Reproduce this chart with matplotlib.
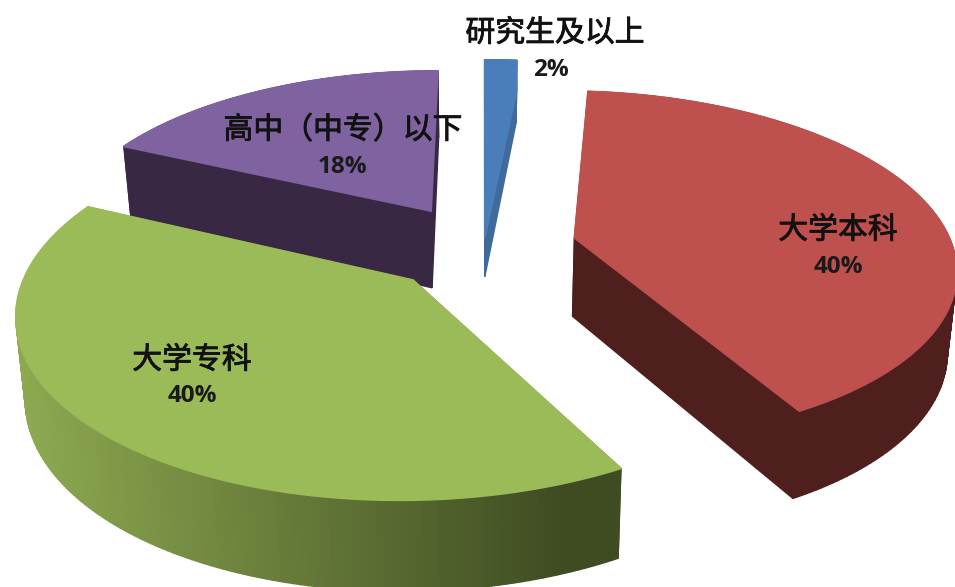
# -*- coding: utf-8 -*-
import numpy as np
import matplotlib
matplotlib.use('Agg')
import matplotlib.pyplot as plt
import matplotlib.patheffects as pe
from matplotlib.colors import to_rgb

plt.rcParams['font.family'] = ['Noto Sans CJK SC', 'DejaVu Sans']

# data
categories = ['研究生及以上', '大学本科', '大学专科', '高中（中专）以下']
shares = [1.3, 40.7, 40.0, 18.0]
share_labels = ['2%', '40%', '40%', '18%']

# slice styles, same order as categories
top_colors = ['#4A7EBB', '#BE504D', '#9BBB59', '#7F62A0']
side_colors = ['#3F6A9C', '#4F1F1D', None, '#392843']
explode = [0.057, 0.255, 0.255, 0.255]
radius = [1.25, 1.0, 1.0, 1.0]
height_scale = [0.5, 1.0, 1.0, 1.0]
corner_drop = [30, 0, 0, 0]
shift_x = [3, 0, 0, 0]
draw_order = [3, 0, 1, 2]

# label centres in pixels: name and share
name_pos = [(555, 33), (838, 230), (192, 360), (343, 130)]
share_pos = [(551, 70), (838, 267), (192, 396), (342, 167)]

# perspective of the pie plane
cx, cy = 481, 247
scale_x, scale_y = 378, 173
persp = 0.16
depth = 79
bottom_shrink = 0.98


def project(u, v):
    w = 1 + persp * v
    return cx + scale_x * u / w, cy - scale_y * v / w


def side_quads(x, y, v):
    thick = depth * (1 - 0.13 * v)
    xb = cx + (x - cx) * bottom_shrink
    yb = y + thick
    return xb, yb


def green_side(x):
    # side of the green slice darkens from left to right
    t = np.clip((x - 20) / 540, 0, 1)
    a, b = np.array(to_rgb('#8DA950')), np.array(to_rgb('#3F4C22'))
    return tuple(a + (b - a) * t)


fig = plt.figure(figsize=(9.55, 5.87), dpi=100)
ax = fig.add_axes([0, 0, 1, 1])
ax.set_xlim(0, 955)
ax.set_ylim(587, 0)
ax.axis('off')

edges = np.cumsum([0] + shares) / np.sum(shares) * 2 * np.pi

for i in draw_order:
    a0, a1 = edges[i], edges[i + 1]
    mid = (a0 + a1) / 2
    u0 = explode[i] * np.sin(mid)
    v0 = explode[i] * np.cos(mid)
    ang = np.linspace(a0, a1, 150)
    u = np.r_[u0, u0 + radius[i] * np.sin(ang)]
    v = np.r_[v0, v0 + radius[i] * np.cos(ang)]
    x, y = project(u, v)

    # walls first, the top face covers what is hidden
    xb, yb = side_quads(x, y, v)
    yb = y + (yb - y) * height_scale[i]
    x = x + shift_x[i]
    xb = xb + shift_x[i]
    if corner_drop[i]:
        x = np.r_[x, x[-1]]
        y = np.r_[y, y[-1] + corner_drop[i]]
        xb = np.r_[xb, xb[-1]]
        yb = np.r_[yb, yb[-1] + corner_drop[i]]
    n = len(x)
    for j in range(n):
        k = (j + 1) % n
        color = side_colors[i] or green_side((x[j] + x[k]) / 2)
        ax.fill([x[j], x[k], xb[k], xb[j]], [y[j], y[k], yb[k], yb[j]],
                color=color, lw=1.0, zorder=2 + draw_order.index(i) * 2)
    ax.fill(x, y, color=top_colors[i], lw=1.4, zorder=3 + draw_order.index(i) * 2)

for i in range(len(categories)):
    ax.text(name_pos[i][0], name_pos[i][1], categories[i], fontsize=21.5, color='#111111',
            ha='center', va='center', zorder=20,
            path_effects=[pe.withStroke(linewidth=0.6, foreground='#111111')])
    ax.text(share_pos[i][0], share_pos[i][1], share_labels[i], fontsize=17.5, color='#1a1a1a',
            ha='center', va='center', fontweight='bold', family=['Open Sans', 'DejaVu Sans'], zorder=20)

plt.savefig('out.png', dpi=100)
plt.close()
